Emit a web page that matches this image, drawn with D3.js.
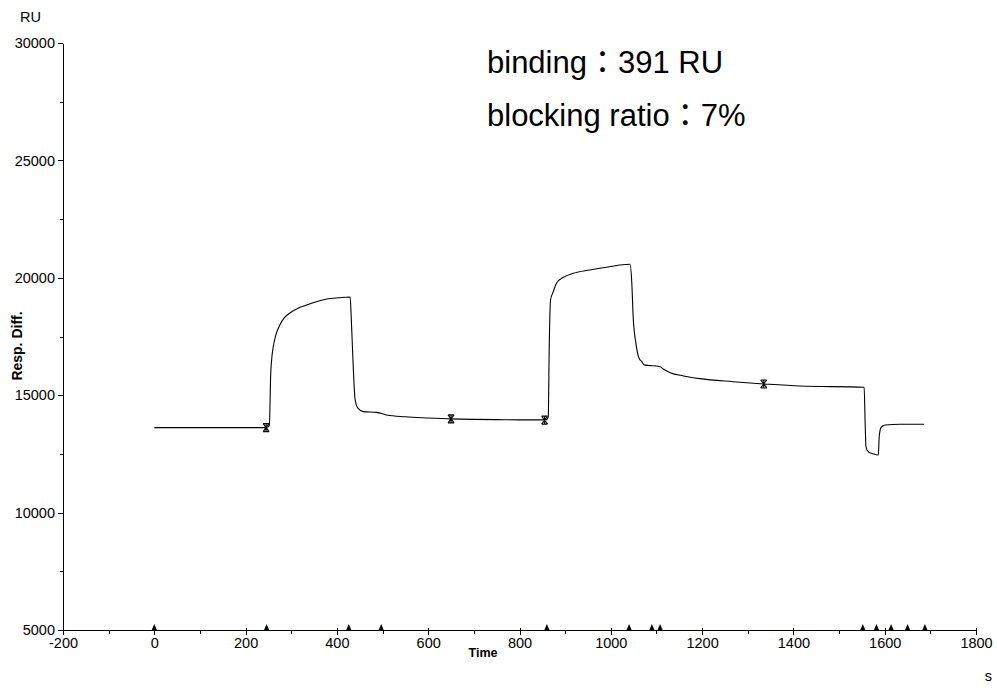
<!DOCTYPE html>
<html lang="en">
	<head>
		<meta charset="utf-8">
		<title>Sensorgram: binding / blocking</title>
		<script src="https://cdn.jsdelivr.net/npm/d3@7"></script>
		<style type="text/css">
			body { margin: 0; background: #fff; }
			text { font-family: "Liberation Sans", Arial, "Noto Sans CJK JP", sans-serif; fill: #000; }
			.axis path, .axis line { stroke: #000; stroke-width: 1; shape-rendering: crispEdges; }
			.axis text { font-size: 14.5px; }
		</style>
	</head>
	<body>
		<script type="text/javascript">

			//Width and height
			let w = 997;
			let h = 688;

			//Sensorgram trace (s, RU)
			let traceTime = [0, 245, 252, 255, 258, 260, 266, 275, 285, 297, 315, 334, 355, 378, 405, 429,
				431, 434, 440, 446, 458, 487, 509, 550, 600, 650, 700, 750, 800, 858,
				863, 865, 868, 874, 881, 896, 918, 954, 991, 1042,
				1046, 1049, 1055, 1062, 1068, 1073, 1108, 1115, 1130, 1159, 1195, 1268, 1335, 1414, 1555,
				1557, 1559, 1564, 1575, 1586, 1588, 1592, 1601, 1634, 1686];
			let traceResp = [13620, 13620, 13700, 15900, 16700, 17000, 17550, 17990, 18300, 18500, 18700, 18840, 18980, 19100, 19150, 19180,
				18500, 17050, 14800, 14450, 14300, 14270, 14160, 14080, 14030, 13990, 13970, 13960, 13950, 13950,
				14070, 16925, 19055, 19410, 19770, 20020, 20190, 20330, 20450, 20575,
				19780, 18340, 17210, 16570, 16430, 16290, 16215, 16115, 15960, 15820, 15705, 15575, 15480, 15390, 15340,
				13940, 12800, 12590, 12500, 12450, 13230, 13630, 13730, 13760, 13760];

			//Report point markers on the curve
			let reportTime = [245, 650, 855, 1335];
			let reportResp = [13620, 13990, 13940, 15480];

			//Injection markers along the time axis
			let injectTime = [0, 246, 426, 497, 860, 1040, 1090, 1108, 1552, 1582, 1614, 1650, 1688];

			//Ticks
			let xMajor = [-200, 0, 200, 400, 600, 800, 1000, 1200, 1400, 1600, 1800];
			let xMinor = [-100, 100, 300, 500, 700, 900, 1100, 1300, 1500, 1700];
			let yMajor = [5000, 10000, 15000, 20000, 25000, 30000];
			let yMinor = [7500, 12500, 17500, 22500, 27500];

			//Annotation
			let notes = ["binding：391 RU", "blocking ratio：7%"];

			//Scales
			let x = d3.scaleLinear().domain([-200, 1800]).range([63, 976]);
			let y = d3.scaleLinear().domain([5000, 30000]).range([630, 43]);

			//Create SVG element
			let svg = d3.select("body")
						.append("svg")
						.attr("width", w)
						.attr("height", h);

			//X axis
			let xAxis = svg.append("g")
				.attr("class", "axis")
				.attr("transform", "translate(0," + y(5000) + ")")
				.call(d3.axisBottom(x).tickValues(xMajor).tickSize(5).tickSizeOuter(0).tickPadding(3).tickFormat(d => String(d)));
			xAxis.selectAll(".tick line").attr("y1", -2);

			svg.append("g")
				.attr("class", "axis")
				.attr("transform", "translate(0," + y(5000) + ")")
				.call(d3.axisBottom(x).tickValues(xMinor).tickSize(4).tickSizeOuter(0).tickFormat(""))
				.select(".domain").remove();

			//Y axis
			svg.append("g")
				.attr("class", "axis")
				.attr("transform", "translate(" + x(-200) + ",0)")
				.call(d3.axisLeft(y).tickValues(yMajor).tickSize(5).tickSizeOuter(0).tickPadding(3).tickFormat(d => String(d)));

			svg.append("g")
				.attr("class", "axis")
				.attr("transform", "translate(" + x(-200) + ",0)")
				.call(d3.axisLeft(y).tickValues(yMinor).tickSize(3).tickSizeOuter(0).tickFormat(""))
				.select(".domain").remove();

			//Axis titles
			svg.append("text")
				.attr("x", 20).attr("y", 22)
				.style("font-size", "14.5px")
				.text("RU");

			svg.append("text")
				.attr("x", 992).attr("y", 681)
				.attr("text-anchor", "end")
				.style("font-size", "14.5px")
				.text("s");

			svg.append("text")
				.attr("x", 483).attr("y", 657)
				.attr("text-anchor", "middle")
				.style("font-size", "12.5px")
				.style("font-weight", "bold")
				.text("Time");

			svg.append("text")
				.attr("transform", "translate(22,346) rotate(-90)")
				.attr("text-anchor", "middle")
				.style("font-size", "14px")
				.style("font-weight", "bold")
				.text("Resp. Diff.");

			//Sensorgram line
			let line = d3.line()
				.x(i => x(traceTime[i]))
				.y(i => y(traceResp[i]))
				.curve(d3.curveMonotoneX);

			svg.append("path")
				.datum(d3.range(traceTime.length))
				.attr("d", line)
				.attr("fill", "none")
				.attr("stroke", "#000")
				.attr("stroke-width", 1.1)
				.attr("stroke-linejoin", "round");

			//Report point markers
			svg.selectAll(".report")
				.data(d3.range(reportTime.length))
				.enter()
				.append("path")
				.attr("class", "report")
				.attr("transform", i => "translate(" + x(reportTime[i]) + "," + y(reportResp[i]) + ")")
				.attr("d", "M-3,-4L3,4M3,-4L-3,4M-3,-4H3M-3,4H3M0,-4V4")
				.attr("fill", "none")
				.attr("stroke", "#000")
				.attr("stroke-width", 1.1);

			//Injection markers
			svg.selectAll(".inject")
				.data(injectTime)
				.enter()
				.append("path")
				.attr("class", "inject")
				.attr("transform", d => "translate(" + x(d) + "," + y(5000) + ")")
				.attr("d", "M-3,1L0,-6L3,1Z")
				.attr("fill", "#000");

			//Annotation
			svg.selectAll(".note")
				.data(notes)
				.enter()
				.append("text")
				.attr("class", "note")
				.attr("x", 487)
				.attr("y", (d, i) => 73 + i * 53)
				.style("font-size", "31px")
				.text(d => d);

		</script>
	</body>
</html>
